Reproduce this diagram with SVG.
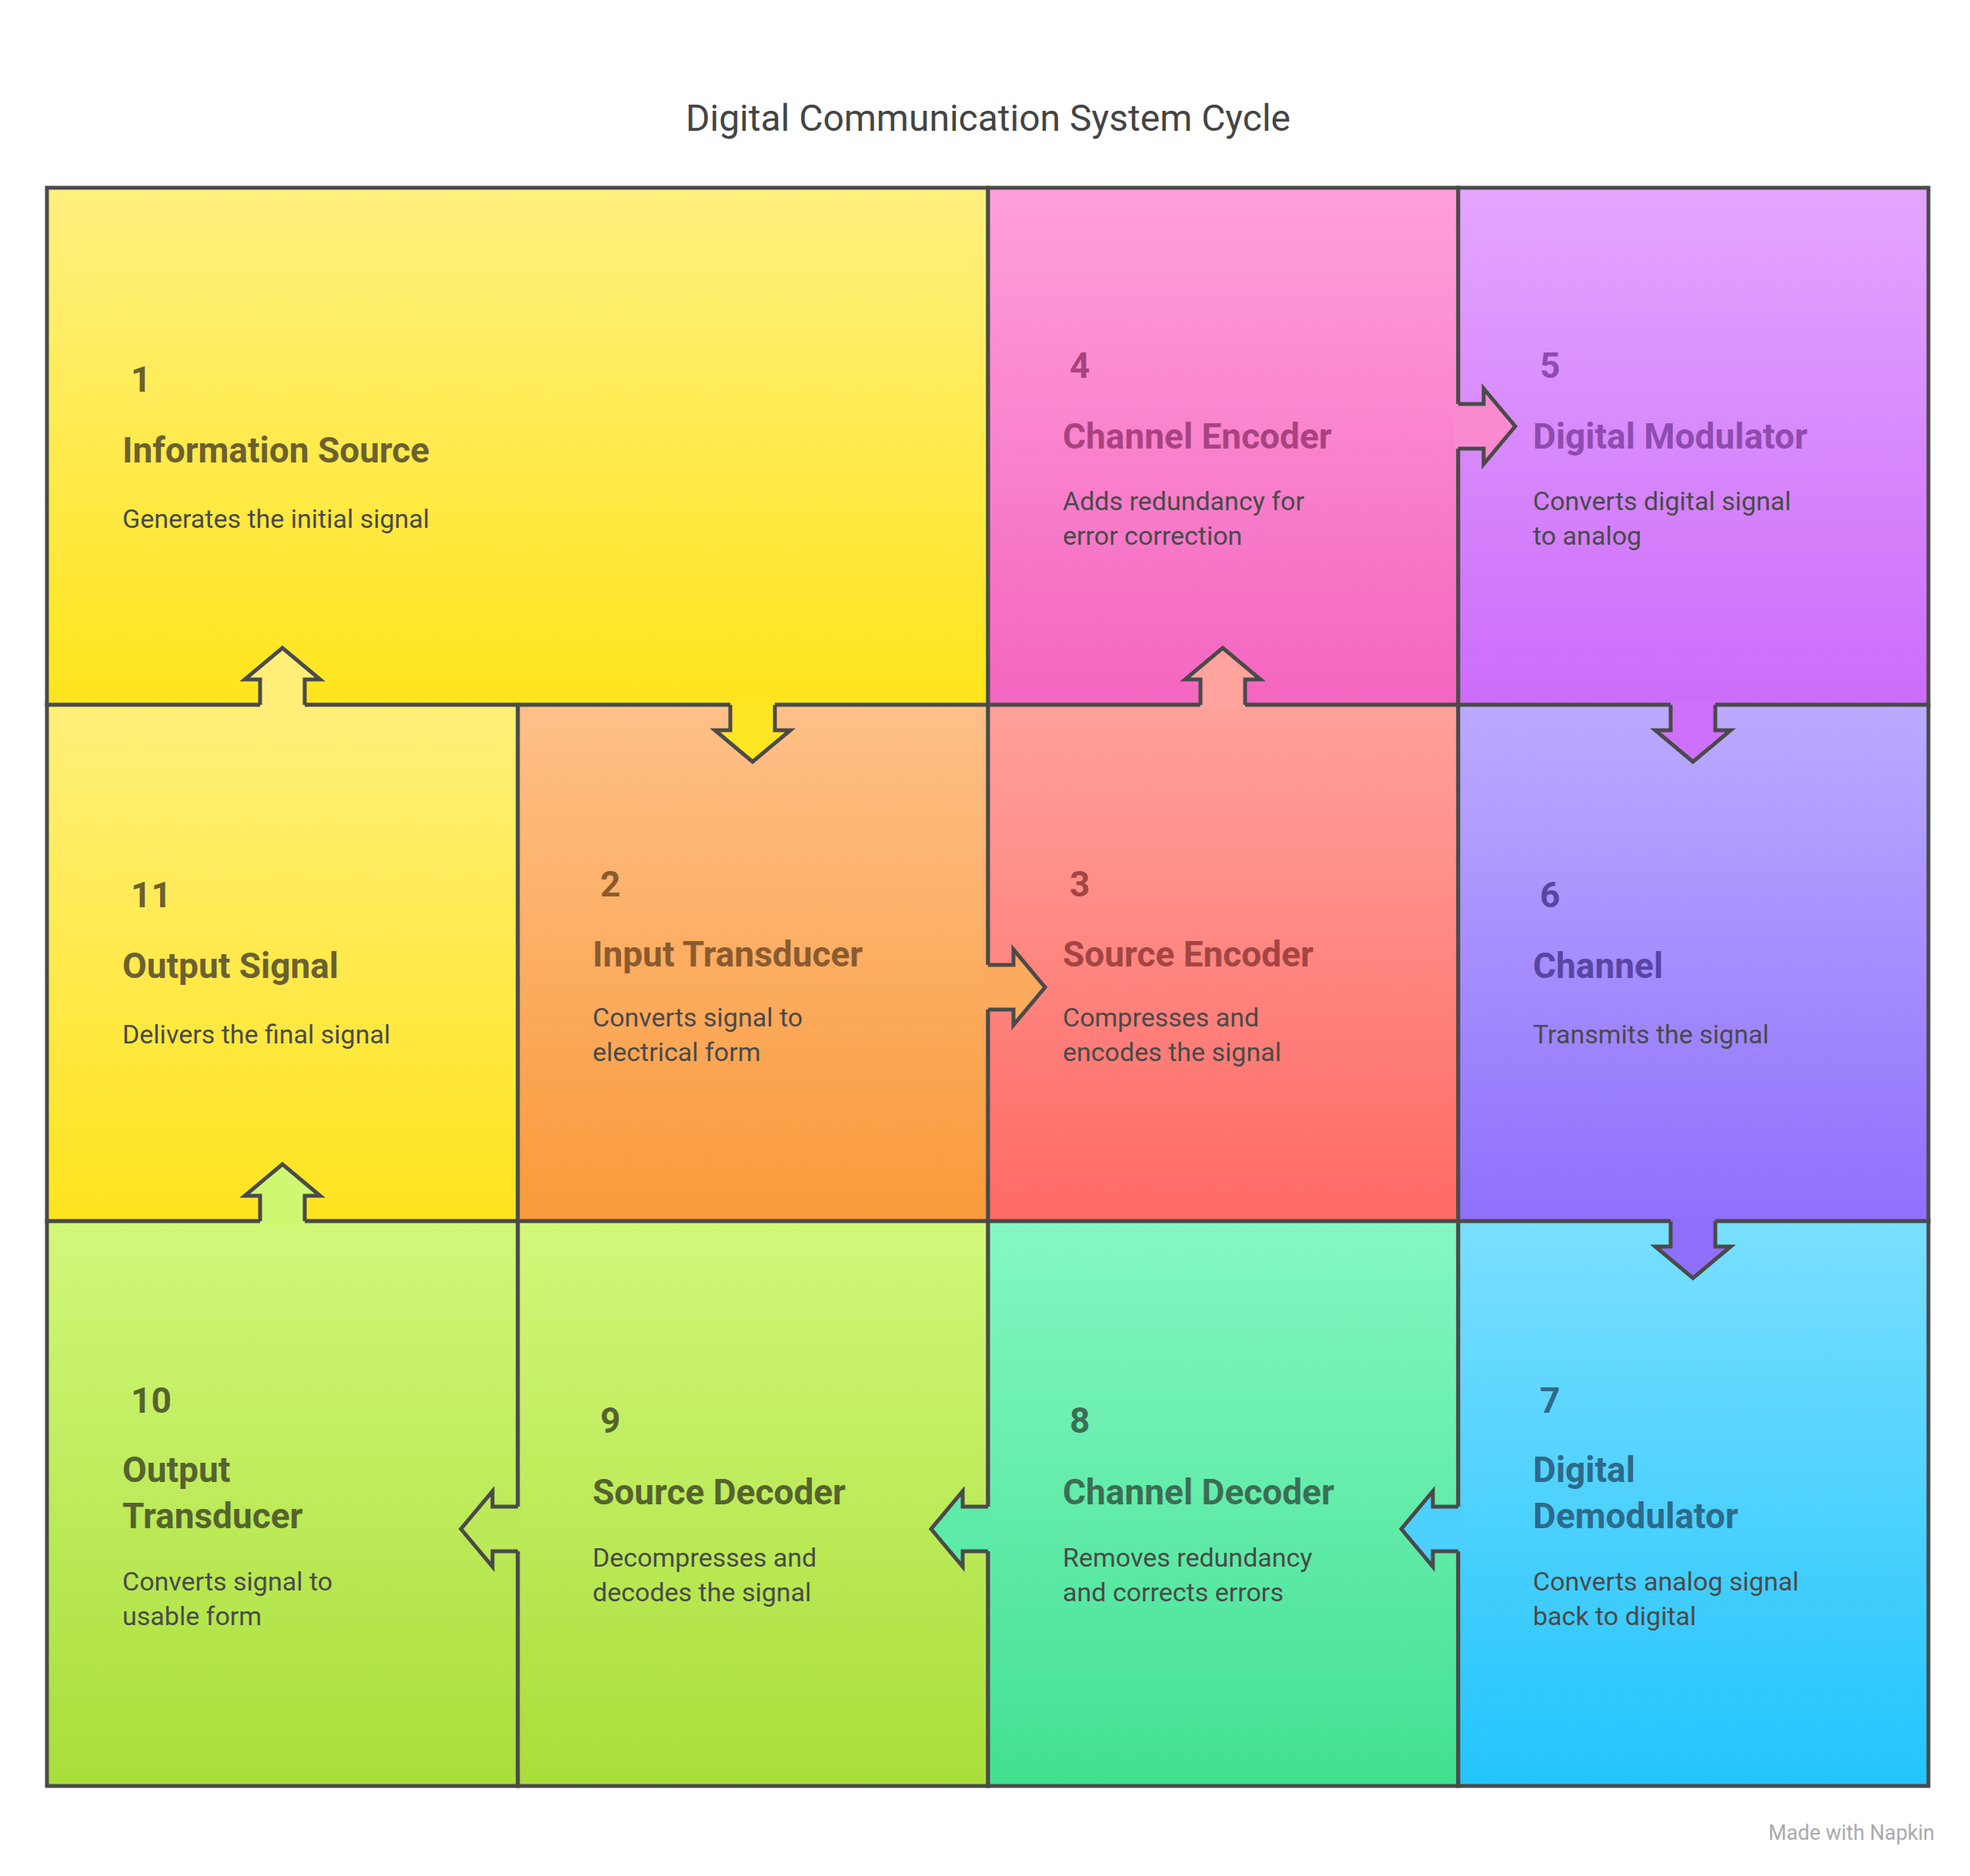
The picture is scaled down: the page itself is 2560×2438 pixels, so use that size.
<svg xmlns="http://www.w3.org/2000/svg" width="2560" height="2438" viewBox="0 0 2560 2438">
<defs>
<linearGradient id="g1" x1="0" y1="0" x2="0" y2="1"><stop offset="0" stop-color="#FFF080"/><stop offset="1" stop-color="#FFE51C"/></linearGradient>
<linearGradient id="g4" x1="0" y1="0" x2="0" y2="1"><stop offset="0" stop-color="#FFA0DA"/><stop offset="1" stop-color="#F465C0"/></linearGradient>
<linearGradient id="g5" x1="0" y1="0" x2="0" y2="1"><stop offset="0" stop-color="#E4A5FF"/><stop offset="1" stop-color="#CC6CFA"/></linearGradient>
<linearGradient id="g2" x1="0" y1="0" x2="0" y2="1"><stop offset="0" stop-color="#FFC088"/><stop offset="1" stop-color="#F99A3A"/></linearGradient>
<linearGradient id="g3" x1="0" y1="0" x2="0" y2="1"><stop offset="0" stop-color="#FFA19A"/><stop offset="1" stop-color="#FF6A66"/></linearGradient>
<linearGradient id="g6" x1="0" y1="0" x2="0" y2="1"><stop offset="0" stop-color="#BBAAFF"/><stop offset="1" stop-color="#8F70FC"/></linearGradient>
<linearGradient id="g11" x1="0" y1="0" x2="0" y2="1"><stop offset="0" stop-color="#FFEF7A"/><stop offset="1" stop-color="#FFE41E"/></linearGradient>
<linearGradient id="g10" x1="0" y1="0" x2="0" y2="1"><stop offset="0" stop-color="#D2F87A"/><stop offset="1" stop-color="#A8DE3A"/></linearGradient>
<linearGradient id="g8" x1="0" y1="0" x2="0" y2="1"><stop offset="0" stop-color="#84F8C4"/><stop offset="1" stop-color="#42E090"/></linearGradient>
<linearGradient id="g7" x1="0" y1="0" x2="0" y2="1"><stop offset="0" stop-color="#7ADFFF"/><stop offset="1" stop-color="#22C4FC"/></linearGradient>
</defs>
<style>
.cell{stroke:#4a4a4a;stroke-width:5}
.af{stroke:none}
.as{fill:none;stroke:#4a4a4a;stroke-width:5;stroke-linejoin:miter}
text{font-family:Roboto,"Liberation Sans",sans-serif}
.num{font-size:46px;font-weight:700}
.ttl{font-size:46px;font-weight:700}
.dsc{font-size:34px;fill:#4a4a4a}
</style>
<rect width="2560" height="2438" fill="#fff"/>
<text x="1284" y="170" text-anchor="middle" font-size="48" fill="#444">Digital Communication System Cycle</text>

<g id="n1"><rect class="cell" x="61" y="244" width="1223" height="672" fill="url(#g1)"/>
<text class="num" x="170" y="509" fill="#6B6130">1</text><text class="ttl" x="159" y="601" fill="#6B6130">Information Source</text>
<text class="dsc" x="159" y="686">Generates the initial signal</text></g>
<g id="n4"><rect class="cell" x="1284" y="244" width="611" height="672" fill="url(#g4)"/>
<text class="num" x="1390" y="491" fill="#A8437F">4</text><text class="ttl" x="1381" y="583" fill="#A8437F">Channel Encoder</text>
<text class="dsc" x="1381" y="663">Adds redundancy for</text><text class="dsc" x="1381" y="708">error correction</text></g>
<g id="n5"><rect class="cell" x="1895" y="244" width="611" height="672" fill="url(#g5)"/>
<text class="num" x="2001" y="491" fill="#8F4BAE">5</text><text class="ttl" x="1992" y="583" fill="#8F4BAE">Digital Modulator</text>
<text class="dsc" x="1992" y="663">Converts digital signal</text><text class="dsc" x="1992" y="708">to analog</text></g>
<g id="n11"><rect class="cell" x="61" y="916" width="612" height="671" fill="url(#g11)"/>
<text class="num" x="170" y="1179" fill="#6B6130">11</text><text class="ttl" x="159" y="1271" fill="#6B6130">Output Signal</text>
<text class="dsc" x="159" y="1356">Delivers the final signal</text></g>
<g id="n2"><rect class="cell" x="673" y="916" width="611" height="671" fill="url(#g2)"/>
<text class="num" x="780" y="1165" fill="#8A5B30">2</text><text class="ttl" x="770" y="1256" fill="#8A5B30">Input Transducer</text>
<text class="dsc" x="770" y="1334">Converts signal to</text><text class="dsc" x="770" y="1379">electrical form</text></g>
<g id="n3"><rect class="cell" x="1284" y="916" width="611" height="671" fill="url(#g3)"/>
<text class="num" x="1390" y="1165" fill="#A34543">3</text><text class="ttl" x="1381" y="1256" fill="#A34543">Source Encoder</text>
<text class="dsc" x="1381" y="1334">Compresses and</text><text class="dsc" x="1381" y="1379">encodes the signal</text></g>
<g id="n6"><rect class="cell" x="1895" y="916" width="611" height="671" fill="url(#g6)"/>
<text class="num" x="2001" y="1179" fill="#5845A3">6</text><text class="ttl" x="1992" y="1271" fill="#5845A3">Channel</text>
<text class="dsc" x="1992" y="1356">Transmits the signal</text></g>
<g id="n10"><rect class="cell" x="61" y="1587" width="612" height="734" fill="url(#g10)"/>
<text class="num" x="170" y="1836" fill="#56632F">10</text><text class="ttl" x="159" y="1926" fill="#56632F">Output</text><text class="ttl" x="159" y="1986" fill="#56632F">Transducer</text>
<text class="dsc" x="159" y="2067">Converts signal to</text><text class="dsc" x="159" y="2112">usable form</text></g>
<g id="n9"><rect class="cell" x="673" y="1587" width="611" height="734" fill="url(#g10)"/>
<text class="num" x="780" y="1862" fill="#56632F">9</text><text class="ttl" x="770" y="1955" fill="#56632F">Source Decoder</text>
<text class="dsc" x="770" y="2036">Decompresses and</text><text class="dsc" x="770" y="2081">decodes the signal</text></g>
<g id="n8"><rect class="cell" x="1284" y="1587" width="611" height="734" fill="url(#g8)"/>
<text class="num" x="1390" y="1862" fill="#3C6E55">8</text><text class="ttl" x="1381" y="1955" fill="#3C6E55">Channel Decoder</text>
<text class="dsc" x="1381" y="2036">Removes redundancy</text><text class="dsc" x="1381" y="2081">and corrects errors</text></g>
<g id="n7"><rect class="cell" x="1895" y="1587" width="611" height="734" fill="url(#g7)"/>
<text class="num" x="2001" y="1836" fill="#2E6A8A">7</text><text class="ttl" x="1992" y="1926" fill="#2E6A8A">Digital</text><text class="ttl" x="1992" y="1986" fill="#2E6A8A">Demodulator</text>
<text class="dsc" x="1992" y="2067">Converts analog signal</text><text class="dsc" x="1992" y="2112">back to digital</text></g>

<g id="connectors">
<polygon class="af" fill="#FFE622" points="949,911 949,949 929,949 978,990 1027,949 1007,949 1007,911"/>
<path class="as" d="M949,916 L949,949 L929,949 L978,990 L1027,949 L1007,949 L1007,916"/>
<polygon class="af" fill="#CE70FA" points="2171,911 2171,949 2151,949 2200,990 2249,949 2229,949 2229,911"/>
<path class="as" d="M2171,916 L2171,949 L2151,949 L2200,990 L2249,949 L2229,949 L2229,916"/>
<polygon class="af" fill="#8F70FC" points="2171,1582 2171,1620 2151,1620 2200,1661 2249,1620 2229,1620 2229,1582"/>
<path class="as" d="M2171,1587 L2171,1620 L2151,1620 L2200,1661 L2249,1620 L2229,1620 L2229,1587"/>
<polygon class="af" fill="#FFEE78" points="338,921 338,883 318,883 367,842 416,883 396,883 396,921"/>
<path class="as" d="M338,916 L338,883 L318,883 L367,842 L416,883 L396,883 L396,916"/>
<polygon class="af" fill="#FFA39C" points="1560,921 1560,883 1540,883 1589,842 1638,883 1618,883 1618,921"/>
<path class="as" d="M1560,916 L1560,883 L1540,883 L1589,842 L1638,883 L1618,883 L1618,916"/>
<polygon class="af" fill="#CFF872" points="338,1592 338,1554 318,1554 367,1513 416,1554 396,1554 396,1592"/>
<path class="as" d="M338,1587 L338,1554 L318,1554 L367,1513 L416,1554 L396,1554 L396,1587"/>
<polygon class="af" fill="#FBAA5E" points="1279,1254 1317,1254 1317,1234 1358,1283 1317,1332 1317,1312 1279,1312"/>
<path class="as" d="M1284,1254 L1317,1254 L1317,1234 L1358,1283 L1317,1332 L1317,1312 L1284,1312"/>
<polygon class="af" fill="#F98AD0" points="1890,525 1928,525 1928,505 1969,554 1928,603 1928,583 1890,583"/>
<path class="as" d="M1895,525 L1928,525 L1928,505 L1969,554 L1928,603 L1928,583 L1895,583"/>
<polygon class="af" fill="#4DCFFD" points="1900,1958 1862,1958 1862,1938 1821,1987 1862,2036 1862,2016 1900,2016"/>
<path class="as" d="M1895,1958 L1862,1958 L1862,1938 L1821,1987 L1862,2036 L1862,2016 L1895,2016"/>
<polygon class="af" fill="#5EEBAA" points="1289,1958 1251,1958 1251,1938 1210,1987 1251,2036 1251,2016 1289,2016"/>
<path class="as" d="M1284,1958 L1251,1958 L1251,1938 L1210,1987 L1251,2036 L1251,2016 L1284,2016"/>
<polygon class="af" fill="#BCE957" points="678,1958 640,1958 640,1938 599,1987 640,2036 640,2016 678,2016"/>
<path class="as" d="M673,1958 L640,1958 L640,1938 L599,1987 L640,2036 L640,2016 L673,2016"/>
</g>
<text x="2514" y="2391" text-anchor="end" font-size="27" fill="#aaa">Made with    Napkin</text>
</svg>
